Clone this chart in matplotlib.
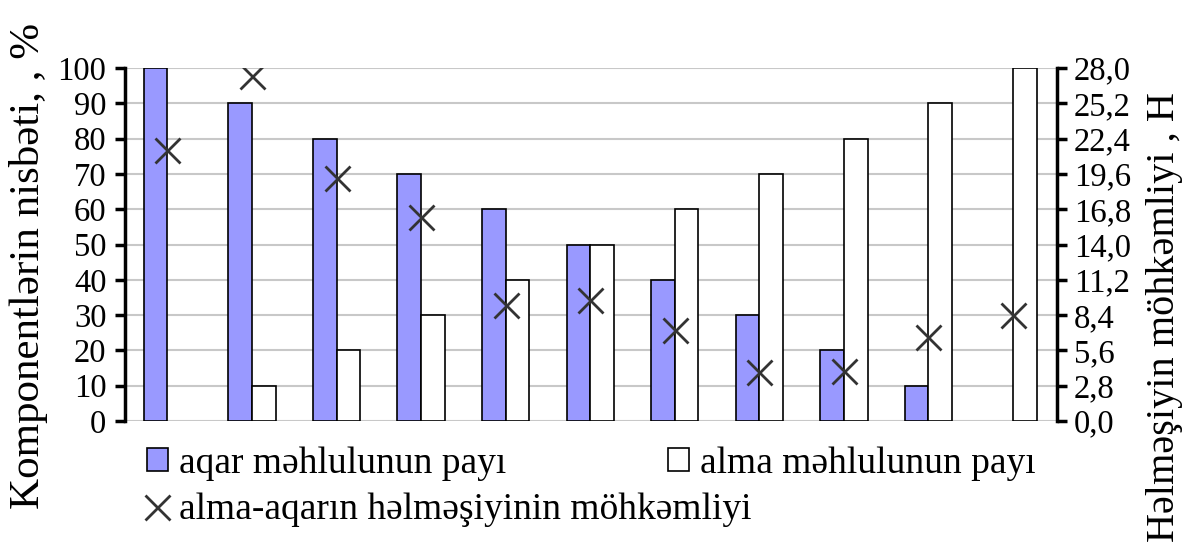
import matplotlib
matplotlib.use("Agg")
import matplotlib.pyplot as plt
import numpy as np
from matplotlib.ticker import FuncFormatter
from matplotlib.patches import Patch

plt.rcParams['font.family'] = ['Liberation Serif', 'DejaVu Serif']

# data
groups = list(range(11))
aqar = [100, 90, 80, 70, 60, 50, 40, 30, 20, 10, 0]
alma = [0, 10, 20, 30, 40, 50, 60, 70, 80, 90, 100]
strength = [21.5, 27.4, 19.3, 16.2, 9.2, 9.6, 7.2, 3.9, 4.0, 6.7, 8.4]

left_ticks = list(range(0, 101, 10))
right_ticks = [0.0, 2.8, 5.6, 8.4, 11.2, 14.0, 16.8, 19.6, 22.4, 25.2, 28.0]

fig = plt.figure(figsize=(11.85, 5.53), dpi=100)
ax = fig.add_axes([0.1051, 0.2387, 0.7869, 0.6383])

x = np.array(groups)
w = 0.28
# zero-height bars are not drawn in the original
lw1 = [1.2 if v > 0 else 0 for v in aqar]
lw2 = [1.2 if v > 0 else 0 for v in alma]
ax.bar(x - w / 2, aqar, width=w, color='#9999ff', edgecolor='black', linewidth=lw1, zorder=3)
ax.bar(x + w / 2, alma, width=w, color='white', edgecolor='black', linewidth=lw2, zorder=3)

ax.set_xlim(-0.507, 10.52)
ax.set_ylim(0, 100)
ax.set_yticks(left_ticks)
ax.set_xticks([])
ax.yaxis.grid(True, color='#c8c8c8', linewidth=1.5, zorder=0)
ax.set_axisbelow(True)
for s in ['top', 'bottom', 'right']:
    ax.spines[s].set_visible(False)
ax.spines['left'].set_linewidth(2.5)
ax.tick_params(axis='y', length=7, width=2.5, labelsize=23.5, pad=6)

ax2 = ax.twinx()
ax2.set_ylim(0, 28)
ax2.set_yticks(right_ticks)
ax2.yaxis.set_major_formatter(FuncFormatter(lambda v, p: f"{v:.1f}".replace('.', ',')))
for s in ['top', 'bottom', 'left']:
    ax2.spines[s].set_visible(False)
ax2.spines['right'].set_linewidth(2.5)
ax2.tick_params(axis='y', length=7, width=2.5, labelsize=23.5, pad=5)
m, = ax2.plot(x, strength, linestyle='none', marker='x', markersize=18,
              markeredgewidth=2, color='#333333', zorder=5)

fig.text(0.024, 0.52, 'Komponentlərin nisbəti, , %', rotation=90, fontsize=31,
         ha='center', va='center')
fig.text(0.983, 0.427, 'Həlməşiyin möhkəmliyi , H', rotation=90, fontsize=29,
         ha='center', va='center')

h1 = Patch(facecolor='#9999ff', edgecolor='black', linewidth=1.2)
h2 = Patch(facecolor='white', edgecolor='black', linewidth=1.2)
fig.legend([h1, m], ['aqar məhlulunun payı', 'alma-aqarın həlməşiyinin möhkəmliyi'],
           loc='upper left', bbox_to_anchor=(0.124, 0.193), frameon=False,
           fontsize=27, handlelength=0.55, handleheight=0.6, handletextpad=0.3,
           labelspacing=0.32, borderaxespad=0, borderpad=0)
fig.legend([h2], ['alma məhlulunun payı'],
           loc='upper left', bbox_to_anchor=(0.564, 0.193), frameon=False,
           fontsize=27, handlelength=0.55, handleheight=0.6, handletextpad=0.3,
           borderaxespad=0, borderpad=0)

fig.savefig('out.png', dpi=100)
